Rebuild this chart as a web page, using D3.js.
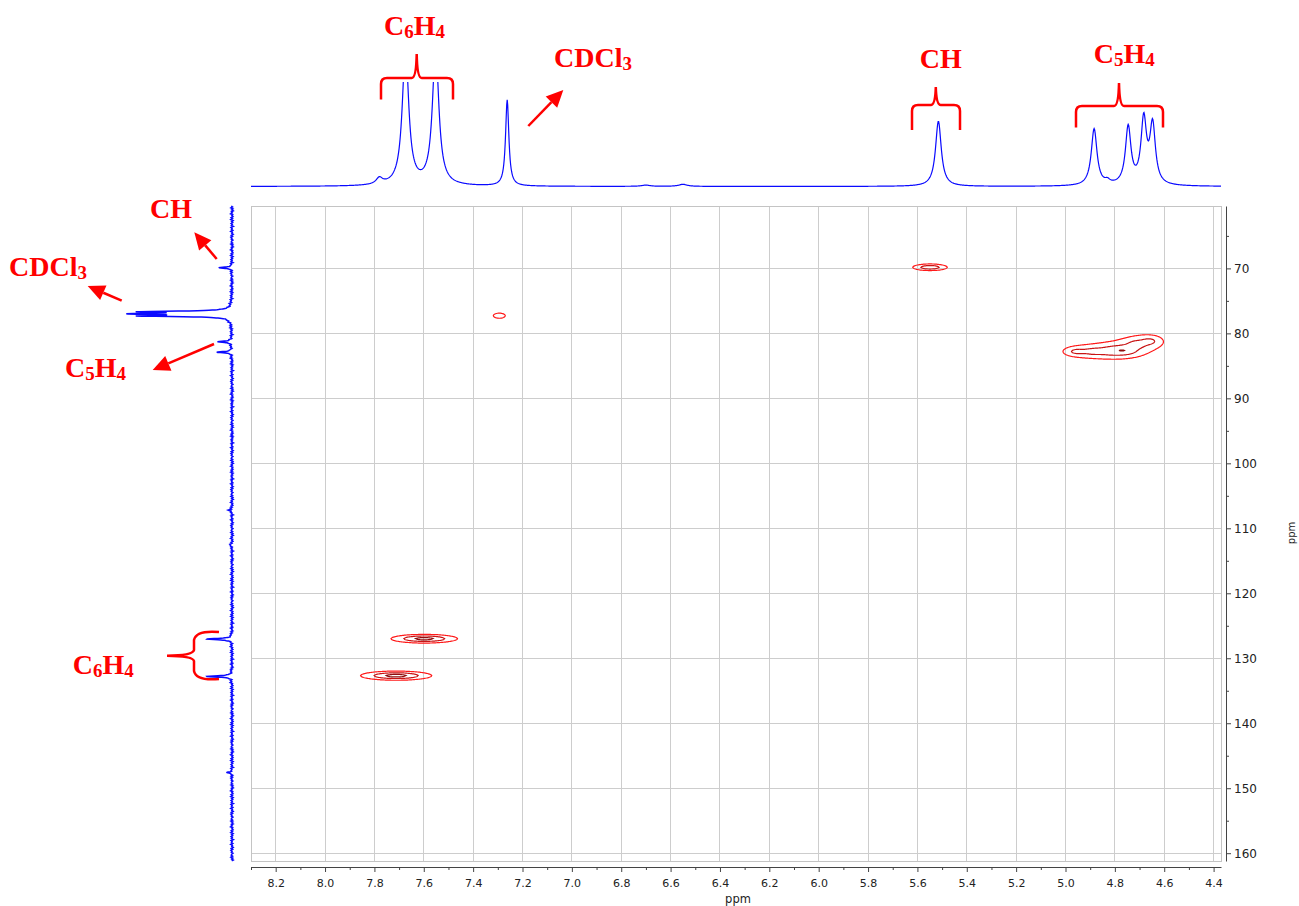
<!DOCTYPE html>
<html>
<head>
<meta charset="utf-8">
<script src="https://cdn.jsdelivr.net/npm/d3@7"></script>
<style>
  body { margin: 0; background: #fff; }
</style>
</head>
<body>
<div id="chart"></div>
<script>
// 1H projection (top trace): shift (ppm), height, half width (ppm)
const hShift  = [7.78, 7.674, 7.552, 7.262, 6.70, 6.55, 5.515, 4.884, 4.83, 4.746, 4.683, 4.647];
const hHeight = [6, 130, 130, 82, 1.2, 2, 62, 54, 3, 55, 61, 56];
const hWidth  = [0.016, 0.0156, 0.0156, 0.008, 0.02, 0.02, 0.014, 0.014, 0.012, 0.0134, 0.0134, 0.0134];

// 13C projection (left trace)
const cShift  = [69.9, 76.68, 77.0, 77.32, 81.3, 82.9, 107.2, 112.6, 127.05, 132.8, 147.6];
const cHeight = [11.5, 80, 82, 79, 13.5, 13.5, 3.5, 2.5, 24, 24, 4];
const cWidth  = [0.12, 0.12, 0.12, 0.12, 0.12, 0.12, 0.12, 0.12, 0.12, 0.12, 0.12];
const cNoise  = [0.9, -0.7, 1.3, -1.1, 0.4, -1.5, 0.8, -0.3, 1.6, -0.9, 0.2, -1.2, 1.0, -0.6, 1.4, -1.3, 0.5, -0.8, 1.1,
                 -0.4, 0.7, -1.6, 1.2, -0.2, 0.6, -1.0, 1.5, -0.5, 0.3, -1.4, 0.9, -0.8, 1.3, -0.1, 0.8, -1.1, 0.4];

// HSQC cross peaks: 1H shift, 13C shift, amplitude, widths
const xpH   = [7.598, 7.712, 5.549, 7.294, 4.957, 4.884, 4.811, 4.763, 4.714, 4.657];
const xpC   = [126.99, 132.68, 69.83, 77.28, 82.79, 82.79, 82.71, 82.64, 81.64, 81.18];
const xpAmp = [5.2, 5.4, 3.27, 1.8, 1.8, 1.6, 1.9, 2.56, 1.5, 1.7];
const xpWH  = [0.065, 0.068, 0.046, 0.027, 0.0405, 0.0405, 0.0405, 0.0405, 0.0405, 0.0405];
const xpWC  = [0.32, 0.33, 0.33, 0.43, 0.54, 0.54, 0.54, 0.54, 0.69, 0.69];
const levels = [1, 2, 4];
const levelColors = ["#ff1a1a", "#c81414", "#8f0e0e"];

// axes
const xTicks = [8.2, 8.0, 7.8, 7.6, 7.4, 7.2, 7.0, 6.8, 6.6, 6.4, 6.2, 6.0, 5.8, 5.6, 5.4, 5.2, 5.0, 4.8, 4.6, 4.4];
const xMinor = [8.3, 8.1, 7.9, 7.7, 7.5, 7.3, 7.1, 6.9, 6.7, 6.5, 6.3, 6.1, 5.9, 5.7, 5.5, 5.3, 5.1, 4.9, 4.7, 4.5];
const yTicks = [70, 80, 90, 100, 110, 120, 130, 140, 150, 160];
const yMinor = [65, 75, 85, 95, 105, 115, 125, 135, 145, 155];

const width = 1299, height = 906;
const plot = {left: 251, right: 1221, top: 206, bottom: 861};
const red = "#ff0000", blue = "#0a0aff";
const sans = "DejaVu Sans, Verdana, sans-serif";

const svg = d3.select("#chart").append("svg")
    .attr("width", width)
    .attr("height", height);

const x = d3.scaleLinear().domain([8.30, 4.37]).range([plot.left, plot.right]);
const y = d3.scaleLinear().domain([60.4, 161.2]).range([plot.top, plot.bottom]);

// grid + frame
const grid = svg.append("g").attr("stroke", "#cdcdcd").attr("shape-rendering", "crispEdges");
grid.selectAll(".vx").data(xTicks).join("line")
    .attr("x1", d => x(d)).attr("x2", d => x(d))
    .attr("y1", plot.top).attr("y2", plot.bottom);
grid.selectAll(".hy").data(yTicks).join("line")
    .attr("x1", plot.left).attr("x2", plot.right)
    .attr("y1", d => y(d)).attr("y2", d => y(d));
svg.append("rect")
    .attr("x", plot.left).attr("y", plot.top)
    .attr("width", plot.right - plot.left).attr("height", plot.bottom - plot.top)
    .attr("fill", "none").attr("stroke", "#c4c4c4").attr("shape-rendering", "crispEdges");

// bottom axis
const xAxis = svg.append("g")
    .attr("transform", `translate(0, 867)`)
    .call(d3.axisBottom(x).tickValues(xTicks).tickFormat(d3.format(".1f")).tickSize(5).tickSizeOuter(0).tickPadding(7));
svg.append("g")
    .attr("transform", `translate(0, 867)`)
    .call(d3.axisBottom(x).tickValues(xMinor).tickFormat("").tickSize(3).tickSizeOuter(0))
    .select(".domain").remove();

// right axis
const yAxis = svg.append("g")
    .attr("transform", `translate(1226, 0)`)
    .call(d3.axisRight(y).tickValues(yTicks).tickSize(5).tickSizeOuter(0).tickPadding(3));
svg.append("g")
    .attr("transform", `translate(1226, 0)`)
    .call(d3.axisRight(y).tickValues(yMinor).tickFormat("").tickSize(3).tickSizeOuter(0))
    .select(".domain").remove();

svg.selectAll(".domain, .tick line").attr("stroke", "#444");
xAxis.selectAll("text").attr("font-family", sans).attr("font-size", 11).attr("fill", "#222");
yAxis.selectAll("text").attr("font-family", sans).attr("font-size", 12).attr("fill", "#222");

svg.append("text")
    .attr("x", 738).attr("y", 903)
    .attr("text-anchor", "middle")
    .attr("font-family", sans).attr("font-size", 11.5).attr("fill", "#222")
    .text("ppm");
svg.append("text")
    .attr("transform", "translate(1295, 533) rotate(-90)")
    .attr("text-anchor", "middle")
    .attr("font-family", sans).attr("font-size", 10).attr("fill", "#222")
    .text("ppm");

// contours
const nx = plot.right - plot.left, ny = plot.bottom - plot.top;
const values = new Float64Array(nx * ny);
for (let j = 0; j < ny; j++) {
    const c = y.invert(plot.top + j + 0.5);
    for (let i = 0; i < nx; i++) {
        const h = x.invert(plot.left + i + 0.5);
        let v = 0;
        for (let k = 0; k < xpH.length; k++) {
            const dh = (h - xpH[k]) / xpWH[k], dc = (c - xpC[k]) / xpWC[k];
            v += xpAmp[k] / (1 + dh * dh + dc * dc);
        }
        values[i + j * nx] = v;
    }
}
const contours = d3.contours().size([nx, ny]).thresholds(levels)(values);
const toPlot = d3.geoPath(d3.geoTransform({
    point(px, py) { this.stream.point(plot.left + px, plot.top + py); }
}));
svg.append("g").selectAll("path").data(contours).join("path")
    .attr("d", toPlot)
    .attr("fill", "none")
    .attr("stroke", (d, i) => levelColors[i])
    .attr("stroke-width", 1.2);

// top 1H trace
const hI = d3.scaleLinear().domain([0, 100]).range([186.5, 81.5]);
const hPts = d3.range(8.30, 4.37, -0.002).map(p => {
    let v = 0;
    hShift.forEach((s, k) => { const u = (p - s) / hWidth[k]; v += hHeight[k] / (1 + u * u); });
    return [p, v];
});
svg.append("clipPath").attr("id", "topclip")
    .append("rect").attr("x", 240).attr("y", 82).attr("width", 1000).attr("height", 120);
svg.append("path")
    .datum(hPts)
    .attr("clip-path", "url(#topclip)")
    .attr("fill", "none").attr("stroke", blue).attr("stroke-width", 1.2)
    .attr("d", d3.line().x(d => x(d[0])).y(d => hI(d[1])));

// left 13C trace
const cI = d3.scaleLinear().domain([0, 100]).range([232, 128]);
const cPts = d3.range(60.4, 161.2, 0.03).map(p => {
    let v = 0;
    cShift.forEach((s, k) => { const u = (p - s) / cWidth[k]; v += cHeight[k] / (1 + u * u); });
    const f = (p - 60.4) / 0.15, i0 = Math.floor(f), t = f - i0;
    const n0 = cNoise[i0 % cNoise.length], n1 = cNoise[(i0 + 1) % cNoise.length];
    return [p, v + 0.8 * (n0 + (n1 - n0) * t)];
});
svg.append("path")
    .datum(cPts)
    .attr("fill", "none").attr("stroke", blue).attr("stroke-width", 1.5)
    .attr("d", d3.line().x(d => cI(d[1])).y(d => y(d[0])));

// annotations
const ann = svg.append("g").attr("fill", red)
    .attr("font-family", "Liberation Serif, Times New Roman, serif")
    .attr("font-weight", "bold").attr("font-size", 28);

function label(xp, yp, parts) {
    const t = ann.append("text").attr("x", xp).attr("y", yp);
    parts.forEach(([s, sub]) => {
        const ts = t.append("tspan").text(s);
        if (sub) ts.attr("font-size", 19).attr("dy", 3);
        else ts.attr("dy", t.selectAll("tspan").size() > 1 ? -3 : 0);
    });
}
label(384, 35, [["C"], ["6", 1], ["H"], ["4", 1]]);
label(554, 66.7, [["CDCl"], ["3", 1]]);
label(919.7, 68.3, [["CH"]]);
label(1093.8, 63.3, [["C"], ["5", 1], ["H"], ["4", 1]]);
label(150, 218.3, [["CH"]]);
label(9, 276, [["CDCl"], ["3", 1]]);
label(65, 376.7, [["C"], ["5", 1], ["H"], ["4", 1]]);
label(72.7, 674.3, [["C"], ["6", 1], ["H"], ["4", 1]]);

function hBrace(x1, x2, xm, yEnd, yBar, yTip) {
    return `M${x1},${yEnd} L${x1},${yBar + 6} Q${x1},${yBar} ${x1 + 6},${yBar} L${xm - 5},${yBar}`
        + ` Q${xm - 0.5},${yBar} ${xm},${yTip} Q${xm + 0.5},${yBar} ${xm + 5},${yBar}`
        + ` L${x2 - 6},${yBar} Q${x2},${yBar} ${x2},${yBar + 6} L${x2},${yEnd}`;
}
const braces = [
    hBrace(381, 453, 416.7, 99.5, 78, 54),
    hBrace(912, 960, 935.8, 130, 105, 87),
    hBrace(1076, 1163, 1119, 127.5, 106, 83),
    "M219,632 Q196,630 194,640 L194,650 Q193,655.5 167,655.7 Q193,656 194,661 L194,671 Q196,681 219,679"
];
svg.append("g").selectAll("path").data(braces).join("path")
    .attr("d", d => d)
    .attr("fill", "none").attr("stroke", red).attr("stroke-width", 2.5);

const arrows = [
    [528.3, 126, 563.3, 90],
    [216.7, 259, 194.3, 232.3],
    [121.7, 300.7, 87.7, 286],
    [214, 344, 152.7, 370]
];
const ag = svg.append("g");
arrows.forEach(([x1, y1, x2, y2]) => {
    const a = Math.atan2(y2 - y1, x2 - x1), L = 17, hw = 8;
    const bx = x2 - L * Math.cos(a), by = y2 - L * Math.sin(a);
    ag.append("line").attr("x1", x1).attr("y1", y1).attr("x2", bx).attr("y2", by)
        .attr("stroke", red).attr("stroke-width", 2.5);
    ag.append("path")
        .attr("d", `M${x2},${y2} L${bx + hw * Math.sin(a)},${by - hw * Math.cos(a)} L${bx - hw * Math.sin(a)},${by + hw * Math.cos(a)} Z`)
        .attr("fill", red);
});
</script>
</body>
</html>
